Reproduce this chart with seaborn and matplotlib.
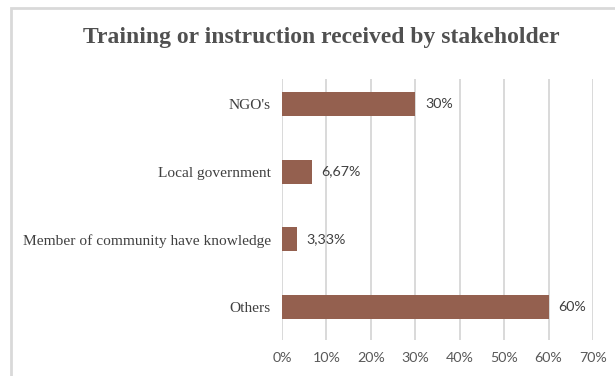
import matplotlib
matplotlib.use("Agg")
import matplotlib.pyplot as plt
from matplotlib.patches import Rectangle
from matplotlib.ticker import FuncFormatter
import pandas as pd
import seaborn as sns

# Data
stakeholders = ["NGO's", "Local government", "Member of community have knowledge", "Others"]
shares = [30, 6.67, 3.33, 60]
x_ticks = [0, 10, 20, 30, 40, 50, 60, 70]

df = pd.DataFrame({"stakeholder": stakeholders, "share": shares})

sns.set_theme(style="white")
plt.rcParams["font.family"] = ["Liberation Serif", "DejaVu Serif"]

fig = plt.figure(figsize=(6.15, 3.76), dpi=100)
W, H = 615, 376
ax = fig.add_axes([282 / W, 1 - 340 / H, (593 - 282) / W, (340 - 79) / H])

bar_color = "#94604F"
sns.barplot(data=df, x="share", y="stakeholder", orient="h", color=bar_color,
            width=0.355, saturation=1, ax=ax, edgecolor="none")

ax.set_xlim(0, 70)
ax.set_ylim(3.488, -0.369)
ax.set_xticks(x_ticks)
ax.xaxis.set_major_formatter(FuncFormatter(lambda v, p: f"{v:.0f}%"))
ax.grid(axis="x", color="#d9d9d9", linewidth=1.4)
ax.set_axisbelow(True)
for s in ax.spines.values():
    s.set_visible(False)
ax.set_xlabel("")
ax.set_ylabel("")

ax.tick_params(axis="x", length=0, pad=9, labelsize=10.3, labelcolor="#595959")
ax.tick_params(axis="y", length=0, pad=8, labelsize=11.1, labelcolor="#404040")
for t in ax.get_xticklabels():
    t.set_family(["Lato", "DejaVu Sans"])

# Value labels next to each bar
labels = [(f"{v:g}".replace(".", ",")) + "%" for v in shares]
texts = ax.bar_label(ax.containers[0], labels=labels, padding=7, fontsize=10.3,
                     color="#404040")
for t in texts:
    t.set_family(["Lato", "DejaVu Sans"])

fig.text(0.522, 1 - 38 / H, "Training or instruction received by stakeholder",
         ha="center", va="center", fontsize=17, fontweight="bold", color="#505050")

# Chart frame
fig.patches.append(Rectangle((11 / W, -0.1), 1.2, (H - 8) / H + 0.1,
                             transform=fig.transFigure, fill=False,
                             edgecolor="#d9d9d9", linewidth=2))

fig.savefig("out.png", dpi=100)
